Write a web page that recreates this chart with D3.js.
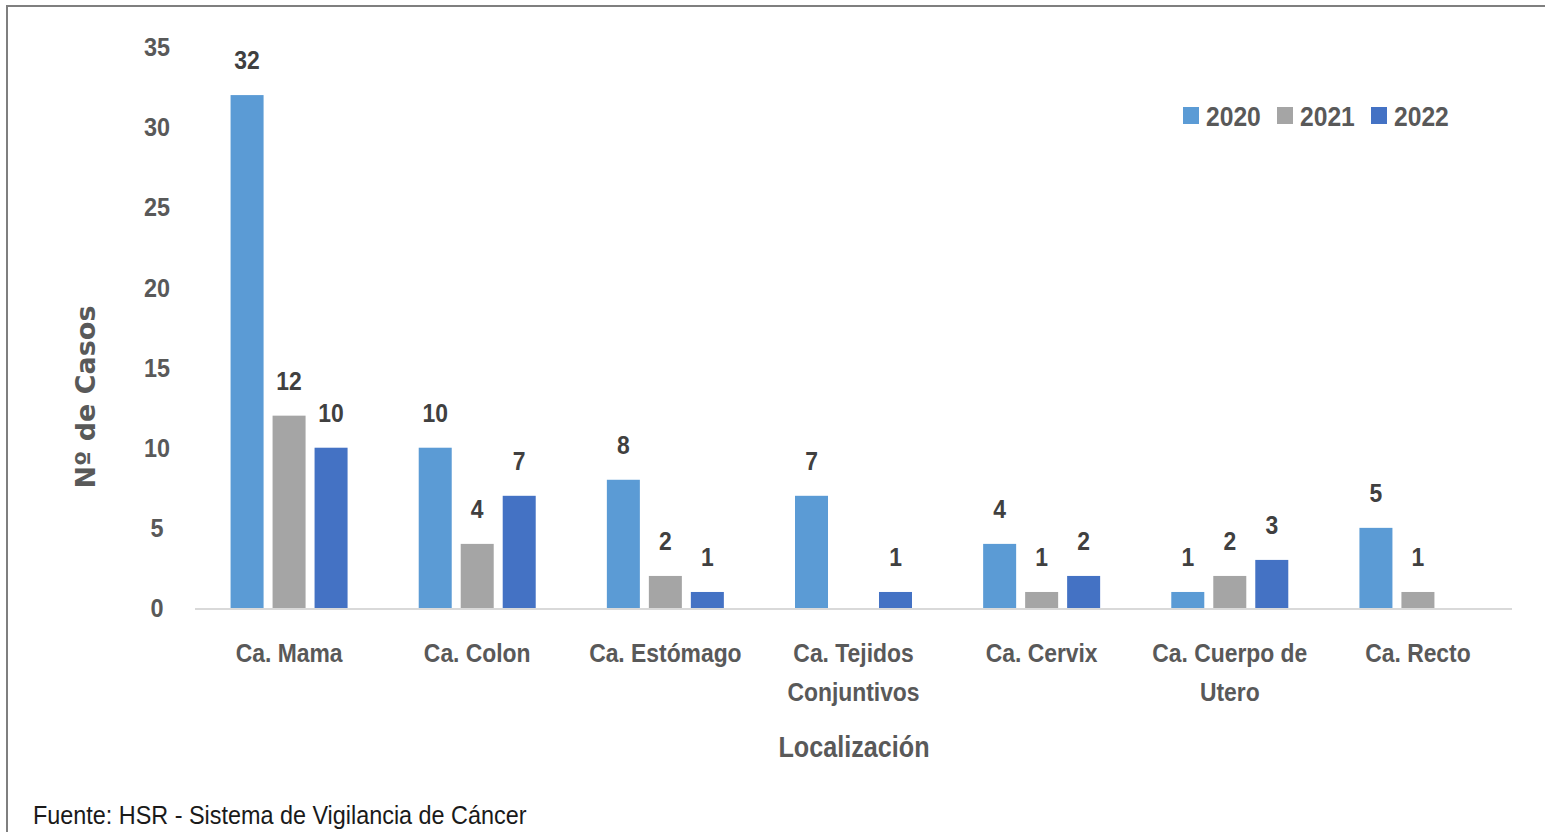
<!DOCTYPE html>
<html><head><meta charset="utf-8">
<script src="https://cdn.jsdelivr.net/npm/d3@7/dist/d3.min.js"></script>
<style>body{margin:0;background:#fff;} svg{display:block;}</style>
</head><body>
<svg id="c" width="1545" height="832"></svg>
<script>
const categories = [["Ca. Mama"],["Ca. Colon"],["Ca. Estómago"],["Ca. Tejidos","Conjuntivos"],["Ca. Cervix"],["Ca. Cuerpo de","Utero"],["Ca. Recto"]];
const series = ["2020","2021","2022"];
const values2020 = [32,10,8,7,4,1,5];
const values2021 = [12,4,2,null,1,2,1];
const values2022 = [10,7,1,1,2,3,null];
const yTicks = [0,5,10,15,20,25,30,35];
const colors = ["#5b9bd5","#a5a5a5","#4472c4"];
const allValues = [values2020, values2021, values2022];

const svg = d3.select("#c");
const font = "'Liberation Sans','Arial',sans-serif";
const M = {left:195, right:1512, top:47, bottom:608};

// place text with horizontal condensing
function place(sel, fx, fy, k){
  sel.attr("transform",(d,i)=>`translate(${fx(d,i)},${fy(d,i)}) scale(${k},1)`);
}

// frame
svg.append("path").attr("d","M7,832 V6 H1545").attr("fill","none").attr("stroke","#7f7f7f").attr("stroke-width",2);

const x0 = d3.scaleBand().domain(d3.range(categories.length)).range([M.left, M.right]);
const x1 = d3.scaleBand().domain(series).range([-58.5,58.5]).paddingInner(0.214);
const y = d3.scaleLinear().domain([0,35]).range([M.bottom, M.top]);

// y tick labels
svg.append("g").selectAll("text").data(yTicks).join("text")
  .call(place, ()=>157, d=>y(d), 0.9)
  .attr("dy","0.35em").attr("text-anchor","middle")
  .attr("font-family",font).attr("font-weight","bold").attr("font-size",26).attr("fill","#595959")
  .text(d=>d);

// bars
series.forEach((s,si)=>{
  const g = svg.append("g");
  const data = allValues[si].map((v,i)=>({v,i})).filter(d=>d.v!==null);
  g.selectAll("rect").data(data).join("rect")
    .attr("x",d=>x0(d.i)+x0.bandwidth()/2+x1(s))
    .attr("y",d=>y(d.v)).attr("width",x1.bandwidth()).attr("height",d=>y(0)-y(d.v))
    .attr("fill",colors[si]);
  g.selectAll("text").data(data).join("text")
    .call(place, d=>x0(d.i)+x0.bandwidth()/2+x1(s)+x1.bandwidth()/2, d=>y(d.v)-26, 0.88)
    .attr("text-anchor","middle")
    .attr("font-family",font).attr("font-weight","bold").attr("font-size",26).attr("fill","#404040")
    .text(d=>d.v);
});

// baseline
svg.append("line").attr("x1",M.left).attr("x2",M.right).attr("y1",y(0)+1).attr("y2",y(0)+1)
  .attr("stroke","#d9d9d9").attr("stroke-width",2);

// category labels
const cl = svg.append("g").selectAll("text").data(categories).join("text")
  .call(place, (d,i)=>x0(i)+x0.bandwidth()/2, ()=>662, 0.88)
  .attr("text-anchor","middle")
  .attr("font-family",font).attr("font-weight","bold").attr("font-size",26).attr("fill","#595959");
cl.selectAll("tspan").data(d=>d).join("tspan")
  .attr("x",0).attr("dy",(d,i)=>i===0?0:39).text(d=>d);

// axis titles
svg.append("text").attr("transform","translate(854,757) scale(0.84,1)").attr("text-anchor","middle")
  .attr("font-family",font).attr("font-weight","bold").attr("font-size",30).attr("fill","#595959").text("Localización");
svg.append("text").attr("transform","translate(95,397) rotate(-90)").attr("text-anchor","middle")
  .attr("font-family","'DejaVu Sans',Verdana,sans-serif").attr("font-weight","bold").attr("font-size",27).attr("fill","#595959").text("Nº de Casos");

// legend
const legX = [1183,1277,1371];
const lg = svg.append("g").selectAll("g").data(series).join("g").attr("transform",(d,i)=>`translate(${legX[i]},107)`);
lg.append("rect").attr("width",16).attr("height",17).attr("fill",(d,i)=>colors[i]);
lg.append("text").attr("transform","translate(23,9) scale(0.88,1)").attr("dy","0.35em")
  .attr("font-family",font).attr("font-weight","bold").attr("font-size",28).attr("fill","#595959").text(d=>d);

// source
svg.append("text").attr("transform","translate(33,824) scale(0.9,1)")
  .attr("font-family",font).attr("font-size",26).attr("fill","#1a1a1a")
  .text("Fuente: HSR - Sistema de Vigilancia de Cáncer");
</script>
</body></html>
